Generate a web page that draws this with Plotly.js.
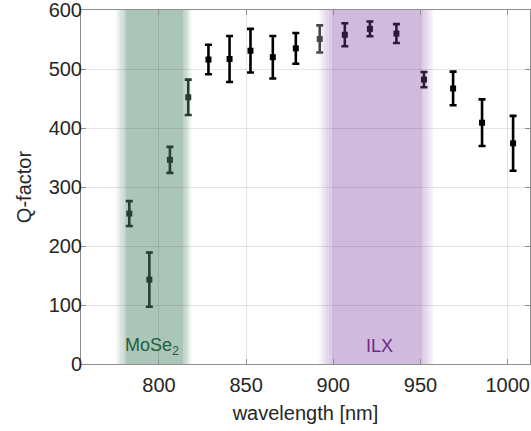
<!DOCTYPE html>
<html>
<head>
<meta charset="utf-8">
<script src="https://cdn.plot.ly/plotly-3.0.1.min.js"></script>
<style>html,body{margin:0;padding:0;background:#fff;}#chart{width:531px;height:431px;}</style>
</head>
<body>
<div id="chart"></div>
<script>
// Data
var wavelength = [783, 794.5, 806.3, 816.8, 828.4, 840.5, 852.5, 865.3, 878.5, 892.2, 906.6, 921, 936.2, 952, 968.7, 985.3, 1003.1];
var qFactor    = [255, 143, 346, 452, 516, 517, 531, 520, 535, 551, 558, 568, 560, 482, 467, 409, 374];
var qError     = [21, 46, 22, 30, 25, 39, 37, 36, 26, 23, 19.5, 12.5, 16, 13, 28.5, 39.5, 46.5];
var pointColor = ['#24402f', '#24402f', '#27412f', '#2b3a31', '#000000', '#000000', '#000000', '#000000', '#000000',
                  '#4b4550', '#2b1a3a', '#2b1a3a', '#2b1a3a', '#2b1a3a', '#000000', '#000000', '#000000'];

var bandNames  = ['MoSe<sub>2</sub>', 'ILX'];
var bandCore   = [[781.7, 814.1], [900, 950]];
var bandFade   = [[775, 818.9], [891, 958]];
var bandColor  = ['171,198,185', '208,187,223'];
var labelColor = ['#1f5e3d', '#6b2a86'];
var labelX     = [796, 926.5];
var labelY     = [30, 30];

var xTicks = [800, 850, 900, 950, 1000];
var yTicks = [0, 100, 200, 300, 400, 500, 600];

var FONT = 'Liberation Sans, Arial, sans-serif';

var traces = [];
for (var i = 0; i < wavelength.length; i++) {
  traces.push({
    x: [wavelength[i]], y: [qFactor[i]],
    type: 'scatter', mode: 'markers',
    marker: {symbol: 'square', size: 6, color: pointColor[i]},
    error_y: {type: 'data', array: [qError[i]], visible: true, color: pointColor[i], thickness: 2.6, width: 3.5},
    showlegend: false, hoverinfo: 'x+y'
  });
}

var shapes = [];
var N = 10;
for (var b = 0; b < bandCore.length; b++) {
  shapes.push({type: 'rect', xref: 'x', yref: 'paper', x0: bandCore[b][0], x1: bandCore[b][1], y0: 0, y1: 1,
    fillcolor: 'rgb(' + bandColor[b] + ')', line: {width: 0}, layer: 'below'});
  var lw = (bandCore[b][0] - bandFade[b][0]) / N;
  var rw = (bandFade[b][1] - bandCore[b][1]) / N;
  for (var k = 0; k < N; k++) {
    var a = (k + 0.5) / N;
    shapes.push({type: 'rect', xref: 'x', yref: 'paper', x0: bandFade[b][0] + k * lw, x1: bandFade[b][0] + (k + 1) * lw, y0: 0, y1: 1,
      fillcolor: 'rgba(' + bandColor[b] + ',' + a.toFixed(3) + ')', line: {width: 0}, layer: 'below'});
    shapes.push({type: 'rect', xref: 'x', yref: 'paper', x0: bandFade[b][1] - (k + 1) * rw, x1: bandFade[b][1] - k * rw, y0: 0, y1: 1,
      fillcolor: 'rgba(' + bandColor[b] + ',' + a.toFixed(3) + ')', line: {width: 0}, layer: 'below'});
  }
}

var annotations = [];
for (var b2 = 0; b2 < bandNames.length; b2++) {
  annotations.push({x: labelX[b2], y: labelY[b2], xref: 'x', yref: 'y', text: bandNames[b2], showarrow: false,
    font: {family: FONT, size: 18, color: labelColor[b2]}});
}

var axisCommon = {
  showline: true, linecolor: '#8f8f8f', linewidth: 1, mirror: 'ticks',
  ticks: 'inside', ticklen: 5, tickcolor: '#8f8f8f', tickwidth: 1,
  showgrid: true, gridcolor: 'rgba(0,0,0,0.1)', gridwidth: 1, zeroline: false,
  ticklabeloverflow: 'allow',
  tickfont: {family: FONT, size: 20, color: '#262626'}
};

var layout = {
  width: 531, height: 431,
  margin: {l: 81, r: 1, t: 9.5, b: 66.5},
  paper_bgcolor: '#ffffff', plot_bgcolor: '#ffffff',
  xaxis: Object.assign({}, axisCommon, {
    range: [755.3, 1012.8], tickmode: 'array', tickvals: xTicks, ticktext: xTicks.map(String),
    ticklabelstandoff: 3,
    title: {text: 'wavelength [nm]', font: {family: FONT, size: 20, color: '#262626'}, standoff: 10}
  }),
  yaxis: Object.assign({}, axisCommon, {
    range: [0, 600], tickmode: 'array', tickvals: yTicks, ticktext: yTicks.map(String),
    ticklabelstandoff: -6,
    title: {text: 'Q-factor', font: {family: FONT, size: 20, color: '#262626'}, standoff: 11}
  }),
  shapes: shapes,
  annotations: annotations,
  showlegend: false
};

Plotly.newPlot('chart', traces, layout, {displayModeBar: false, staticPlot: true});
</script>
</body>
</html>
